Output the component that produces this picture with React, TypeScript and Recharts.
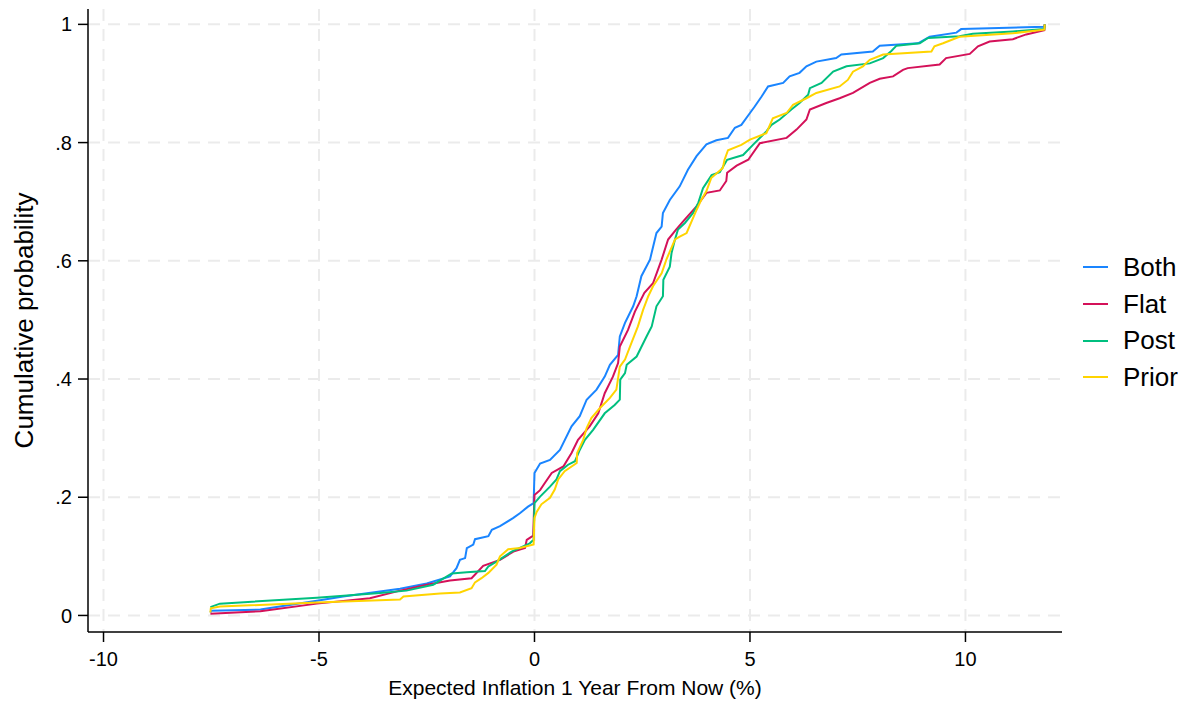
import { LineChart, Line, XAxis, YAxis, CartesianGrid, Legend } from 'recharts'

const BOTH: [number, number][] = [
  [-7.52, 0.005], [-7.5, 0.008], [-6.36, 0.010], [-5.05, 0.025], [-4.44, 0.032], [-3.12, 0.045],
  [-2.5, 0.054], [-1.96, 0.066], [-1.81, 0.080], [-1.73, 0.094], [-1.61, 0.097], [-1.57, 0.114],
  [-1.42, 0.120], [-1.38, 0.129], [-1.07, 0.134], [-0.99, 0.145], [-0.8, 0.151], [-0.49, 0.165],
  [-0.34, 0.173], [-0.15, 0.184], [-0.02, 0.190], [0, 0.241], [0.13, 0.257], [0.36, 0.263],
  [0.59, 0.280], [0.86, 0.320], [1.05, 0.337], [1.21, 0.365], [1.44, 0.382], [1.63, 0.404],
  [1.75, 0.424], [1.94, 0.441], [1.98, 0.472], [2.1, 0.495], [2.29, 0.523], [2.37, 0.540],
  [2.48, 0.574], [2.68, 0.602], [2.83, 0.647], [2.95, 0.658], [2.98, 0.681], [3.14, 0.703],
  [3.37, 0.726], [3.56, 0.754], [3.76, 0.777], [3.99, 0.797], [4.22, 0.804], [4.49, 0.808],
  [4.65, 0.825], [4.8, 0.830], [5.0, 0.850], [5.11, 0.861], [5.27, 0.878], [5.42, 0.895],
  [5.77, 0.901], [5.92, 0.912], [6.15, 0.918], [6.31, 0.929], [6.54, 0.937], [7.0, 0.943],
  [7.12, 0.949], [7.85, 0.954], [8.01, 0.964], [8.9, 0.968], [9.17, 0.979], [9.79, 0.986],
  [9.9, 0.992], [11.83, 0.996], [11.84, 1.0],
]

const FLAT: [number, number][] = [
  [-7.52, 0.003], [-6.36, 0.007], [-5.05, 0.020], [-3.82, 0.029], [-3.12, 0.042], [-2.5, 0.052],
  [-1.96, 0.059], [-1.46, 0.063], [-1.19, 0.084], [-0.8, 0.094], [-0.49, 0.108], [-0.22, 0.114],
  [-0.18, 0.128], [-0.03, 0.135], [0, 0.204], [0.13, 0.212], [0.24, 0.224], [0.4, 0.241],
  [0.67, 0.252], [0.86, 0.275], [1.01, 0.297], [1.28, 0.320], [1.48, 0.342], [1.63, 0.376],
  [1.82, 0.404], [1.94, 0.427], [1.98, 0.455], [2.17, 0.483], [2.33, 0.514], [2.55, 0.546],
  [2.75, 0.562], [2.95, 0.602], [3.1, 0.636], [3.29, 0.653], [3.49, 0.670], [3.76, 0.692],
  [3.99, 0.715], [4.3, 0.719], [4.45, 0.735], [4.47, 0.749], [4.69, 0.761], [4.96, 0.771],
  [5.23, 0.799], [5.85, 0.808], [6.08, 0.822], [6.31, 0.839], [6.39, 0.856], [6.77, 0.867],
  [7.08, 0.875], [7.39, 0.884], [7.78, 0.901], [8.01, 0.908], [8.32, 0.912], [8.55, 0.923],
  [8.66, 0.926], [9.4, 0.932], [9.55, 0.943], [10.1, 0.950], [10.29, 0.963], [10.56, 0.971],
  [11.1, 0.975], [11.41, 0.983], [11.83, 0.990], [11.84, 1.0],
]

const POST: [number, number][] = [
  [-7.52, 0.014], [-7.3, 0.020], [-5.05, 0.030], [-3.58, 0.038], [-2.97, 0.042], [-2.35, 0.052],
  [-1.92, 0.071], [-1.57, 0.073], [-1.15, 0.075], [-1.07, 0.083], [-0.88, 0.091], [-0.53, 0.108],
  [-0.11, 0.122], [-0.02, 0.128], [0, 0.190], [0.13, 0.201], [0.36, 0.218], [0.51, 0.230],
  [0.59, 0.244], [0.78, 0.255], [0.94, 0.261], [1.05, 0.280], [1.17, 0.297], [1.36, 0.314],
  [1.63, 0.342], [1.86, 0.356], [1.98, 0.365], [1.99, 0.399], [2.1, 0.410], [2.14, 0.424],
  [2.37, 0.438], [2.6, 0.472], [2.72, 0.489], [2.83, 0.523], [2.98, 0.540], [2.99, 0.568],
  [3.14, 0.590], [3.18, 0.613], [3.26, 0.636], [3.33, 0.653], [3.49, 0.664], [3.68, 0.681],
  [3.8, 0.698], [3.91, 0.723], [4.11, 0.745], [4.3, 0.750], [4.47, 0.771], [4.84, 0.779],
  [5.08, 0.797], [5.38, 0.819], [5.5, 0.830], [5.69, 0.839], [5.96, 0.856], [6.15, 0.867],
  [6.35, 0.881], [6.39, 0.892], [6.66, 0.901], [6.93, 0.920], [7.24, 0.929], [7.78, 0.934],
  [8.09, 0.943], [8.28, 0.955], [8.4, 0.964], [8.94, 0.968], [9.13, 0.977], [9.86, 0.980],
  [10.17, 0.984], [11.1, 0.988], [11.83, 0.992], [11.84, 1.0],
]

const PRIOR: [number, number][] = [
  [-7.52, 0.005], [-7.51, 0.012], [-7.3, 0.015], [-5.05, 0.022], [-3.12, 0.027], [-3.04, 0.032],
  [-2.19, 0.037], [-1.73, 0.039], [-1.46, 0.046], [-1.38, 0.056], [-1.23, 0.063], [-1.07, 0.072],
  [-0.88, 0.086], [-0.8, 0.100], [-0.61, 0.112], [-0.34, 0.114], [-0.02, 0.120], [0, 0.165],
  [0.05, 0.175], [0.16, 0.188], [0.36, 0.199], [0.47, 0.213], [0.55, 0.230], [0.7, 0.244],
  [0.98, 0.258], [0.99, 0.275], [1.13, 0.297], [1.21, 0.317], [1.32, 0.334], [1.52, 0.351],
  [1.75, 0.368], [1.9, 0.382], [1.98, 0.421], [2.1, 0.433], [2.25, 0.461], [2.4, 0.489],
  [2.52, 0.517], [2.64, 0.540], [2.75, 0.557], [2.95, 0.579], [3.06, 0.602], [3.26, 0.636],
  [3.37, 0.641], [3.53, 0.647], [3.76, 0.686], [3.87, 0.703], [3.99, 0.718], [4.1, 0.740],
  [4.37, 0.757], [4.41, 0.771], [4.49, 0.787], [4.8, 0.796], [5.0, 0.805], [5.38, 0.816],
  [5.53, 0.841], [5.85, 0.850], [6.0, 0.864], [6.31, 0.875], [6.54, 0.884], [7.08, 0.895],
  [7.27, 0.906], [7.39, 0.920], [7.62, 0.929], [7.78, 0.940], [8.09, 0.949], [9.21, 0.954],
  [9.28, 0.963], [9.48, 0.968], [9.86, 0.979], [11.1, 0.985], [11.83, 0.991], [11.84, 1.0],
]

const X_TICKS = [-10, -5, 0, 5, 10]
const Y_TICKS = [0, 0.2, 0.4, 0.6, 0.8, 1]

const SERIES = [
  { name: 'Both', points: BOTH, color: '#1A85FF' },
  { name: 'Flat', points: FLAT, color: '#D41159' },
  { name: 'Post', points: POST, color: '#00BF7F' },
  { name: 'Prior', points: PRIOR, color: '#FFD400' },
]

const toRows = (pts: [number, number][]) => pts.map(([x, y]) => ({ x, y }))
const fmtY = (v: number) => (v === 0 || v === 1 ? String(v) : String(v).replace(/^0/, ''))

function LegendBox({ payload }: any) {
  return (
    <div style={{ paddingLeft: 21 }}>
      {(payload || []).map((e: any) => (
        <div key={e.value} style={{ display: 'flex', alignItems: 'center', height: 36.7 }}>
          <span style={{ width: 25, height: 2, background: e.color, marginRight: 15 }} />
          <span style={{ fontSize: 26, color: '#000' }}>{e.value}</span>
        </div>
      ))}
    </div>
  )
}

export default function App() {
  const tick = { fontSize: 20, fill: '#000' }
  return (
    <div style={{ position: 'absolute', left: 0, top: 0, fontFamily: '"Liberation Sans", Arial, Helvetica, sans-serif', background: '#fff' }}>
      <LineChart width={1186} height={702} margin={{ top: 9, right: 0, bottom: 0, left: 0 }}>
        <CartesianGrid stroke="#EBEBEB" strokeWidth={2} strokeDasharray="12 8" syncWithTicks />
        <XAxis
          dataKey="x" type="number" domain={[-10.36, 12.24]} ticks={X_TICKS} height={70}
          tick={tick} tickSize={10} tickMargin={10} stroke="#000" strokeWidth={1.5}
          label={{ value: 'Expected Inflation 1 Year From Now (%)', position: 'insideBottom', offset: 7, fontSize: 21, fill: '#000' }}
        />
        <YAxis
          type="number" domain={[-0.028, 1.026]} ticks={Y_TICKS} width={88} tickFormatter={fmtY}
          tick={tick} tickSize={10} tickMargin={6} stroke="#000" strokeWidth={1.5}
          label={{ value: 'Cumulative probability', angle: -90, position: 'insideLeft', offset: 24, textAnchor: 'middle', fontSize: 26, fill: '#000' }}
        />
        <Legend layout="vertical" align="right" verticalAlign="middle" content={LegendBox}
          wrapperStyle={{ width: 124, top: 249 }} />
        {SERIES.map(s => (
          <Line key={s.name} data={toRows(s.points)} dataKey="y" name={s.name} type="linear"
            stroke={s.color} strokeWidth={2} dot={false} isAnimationActive={false} />
        ))}
      </LineChart>
    </div>
  )
}
